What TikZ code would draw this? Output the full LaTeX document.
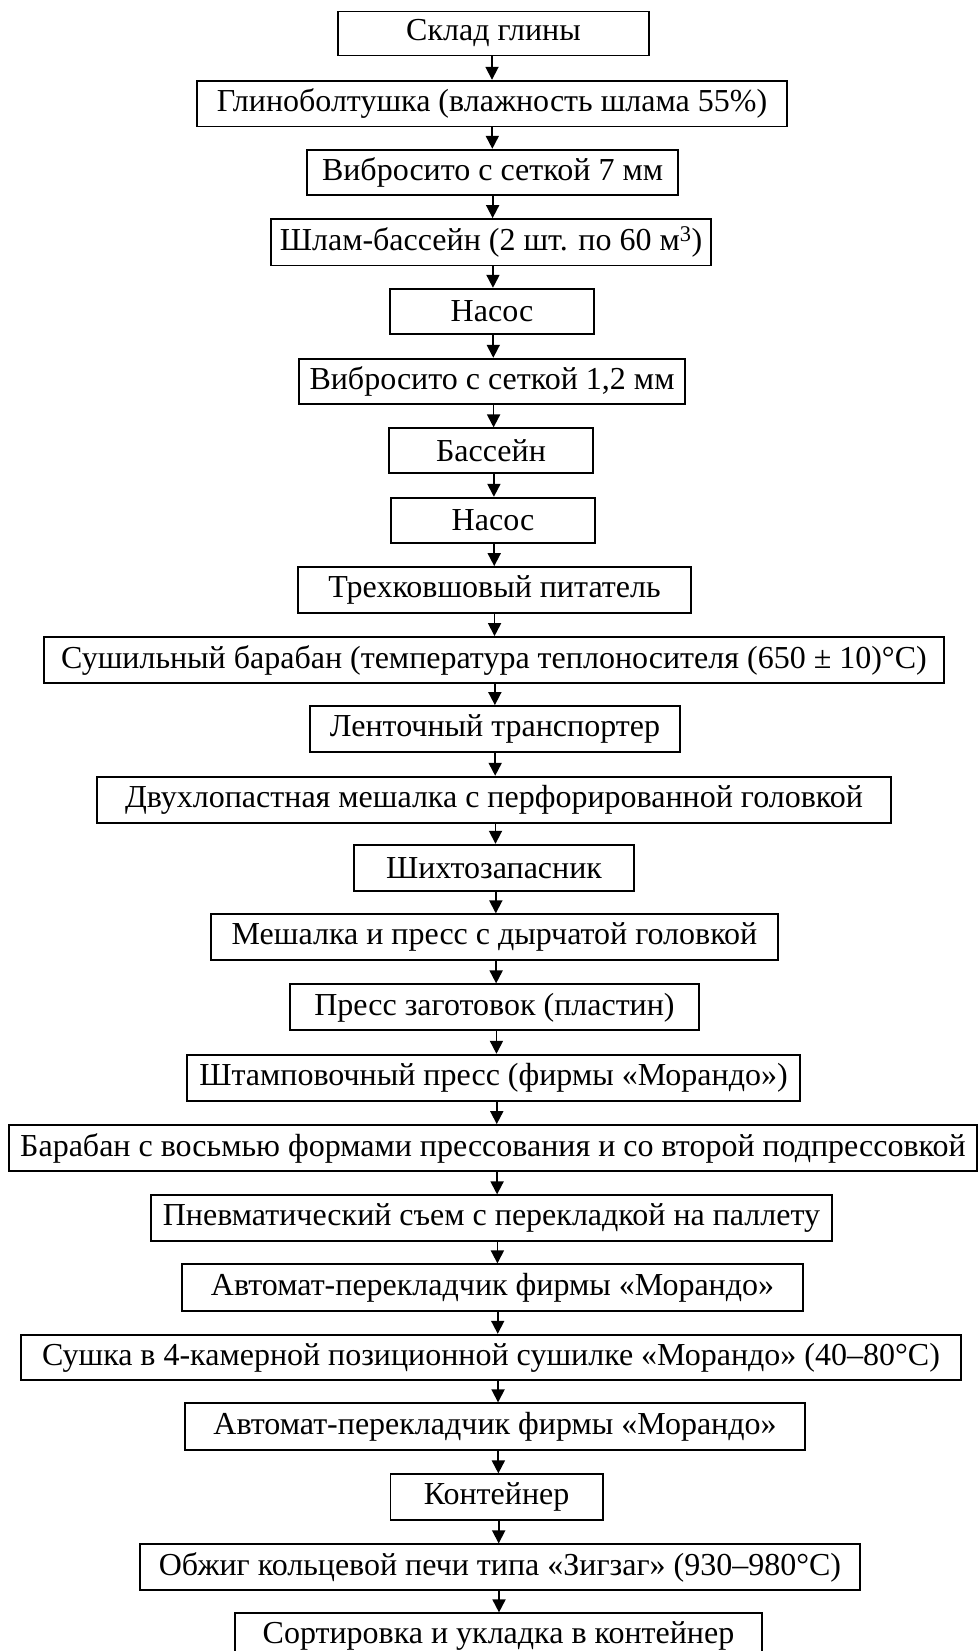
\documentclass[tikz,border=0pt]{standalone}
\usepackage{fontspec}
\setmainfont{Liberation Serif}
\usetikzlibrary{arrows.meta}

% one process stage: name, left, top, right, bottom, label
\newcommand\stagebox[6]{%
  \node[stage, minimum width={#4-#2}, minimum height={#5-#3}]
    (#1) at ({(#2+#4)/2},{(#3+#5)/2}) {#6};}

\begin{document}
\begin{tikzpicture}[x=1pt,y=-1pt,
  stage/.style={draw, line width=1.8pt, inner sep=0pt,
    font=\fontsize{32}{38}\selectfont},
  flow/.style={line width=1.8pt, -{Triangle[length=13pt,width=13pt]}}]
\useasboundingbox (0,0) rectangle (978,1651);

\stagebox{s1}{338}{11.5}{649}{55.5}{Склад глины}
\stagebox{s2}{197}{80.7}{787}{126.5}{Глиноболтушка (влажность шлама 55\%)}
\stagebox{s3}{307}{149.7}{678}{195}{Вибросито с сеткой 7 мм}
\stagebox{s4}{271}{219}{711}{265.5}{Шлам-бассейн (2 шт. по 60 м\textsuperscript{3})}
\stagebox{s5}{390}{288.7}{594}{334}{Насос}
\stagebox{s6}{299}{358.7}{685}{404.3}{Вибросито с сеткой 1,2 мм}
\stagebox{s7}{389}{428.3}{593}{473.3}{Бассейн}
\stagebox{s8}{391}{497.7}{595}{543.3}{Насос}
\stagebox{s9}{298}{567}{691}{612.7}{Трехковшовый питатель}
\stagebox{s10}{44}{637}{944}{683}{Сушильный барабан (температура теплоносителя (650 ± 10)°C)}
\stagebox{s11}{310}{706}{680}{752}{Ленточный транспортер}
\stagebox{s12}{97}{776.7}{891}{822.7}{Двухлопастная мешалка с перфорированной головкой}
\stagebox{s13}{354}{844.7}{634}{890.7}{Шихтозапасник}
\stagebox{s14}{211}{914.3}{778}{960}{Мешалка и пресс с дырчатой головкой}
\stagebox{s15}{290}{984.3}{699}{1030.3}{Пресс заготовок (пластин)}
\stagebox{s16}{187}{1054.7}{800}{1100.7}{Штамповочный пресс (фирмы «Морандо»)}
\stagebox{s17}{9}{1125}{977}{1171}{Барабан с восьмью формами прессования и со второй подпрессовкой}
\stagebox{s18}{151}{1195.3}{832}{1241}{Пневматический съем с перекладкой на паллету}
\stagebox{s19}{182}{1264.3}{803}{1310.7}{Автомат-перекладчик фирмы «Морандо»}
\stagebox{s20}{21}{1334.7}{961}{1380.3}{Сушка в 4-камерной позиционной сушилке «Морандо» (40–80°C)}
\stagebox{s21}{185}{1403.3}{805}{1450}{Автомат-перекладчик фирмы «Морандо»}
\stagebox{s22}{390.5}{1474.3}{602.6}{1520}{Контейнер}
\stagebox{s23}{140}{1544.3}{860}{1590.3}{Обжиг кольцевой печи типа «Зигзаг» (930–980°C)}
\stagebox{s24}{235}{1613.3}{762}{1659}{Сортировка и укладка в контейнер}

% connectors run down a column that drifts slightly to the right
\foreach \i [evaluate=\i as \j using int(\i+1),
             evaluate=\i as \ax using 492+7*(\i-1)/22] in {1,...,23} {
  \coordinate (a\i) at (\ax,0);
  \draw[flow] (s\i.south -| a\i) -- (s\j.north -| a\i);
}
\end{tikzpicture}
\end{document}
